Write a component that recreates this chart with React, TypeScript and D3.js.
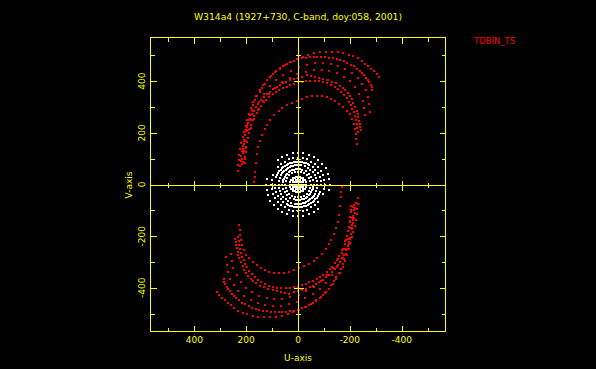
import React from "react";
import * as d3 from "d3";

const W = 596;
const H = 369;

const titleText = "W314a4 (1927+730, C-band, doy:058, 2001)";
const legendText = "TDBIN_TS";
const xLabel = "U-axis";
const yLabel = "V-axis";

const axisTicks = [-500, -400, -300, -200, -100, 100, 200, 300, 400, 500];
const labelTicks = [400, 200, 0, -200, -400];

type P = [number, number];

// Red (long baseline) tracks, upper half; the conjugate (-u,-v) is also plotted.
const trackA: P[] = [
  [168, 9], [167, 28], [165, 48], [163, 84], [159, 119], [153, 145], [146, 170], [137, 193],
  [127, 215], [118, 232], [108, 248], [92, 268], [75, 286], [60, 297], [43, 306], [24, 316],
  [5, 325], [-15, 332], [-34, 338], [-53, 341], [-72, 343], [-91, 341], [-110, 338], [-127, 331],
  [-143, 323], [-160, 312], [-175, 299], [-188, 286], [-200, 271], [-209, 254], [-216, 235],
  [-220, 216], [-223, 196], [-225, 176], [-226, 157],
];

const track1: P[] = [
  [233, 54], [231, 74], [229, 93], [226, 116], [223, 138], [219, 160], [214, 183], [208, 205],
  [201, 228], [195, 251], [188, 274], [180, 297], [172, 319], [161, 342], [148, 364], [135, 384],
  [120, 403], [104, 420], [88, 435], [69, 450], [50, 463], [28, 475], [5, 486], [-18, 495],
  [-40, 503], [-62, 508], [-85, 512], [-108, 514], [-130, 513], [-153, 511], [-175, 508],
  [-195, 503], [-213, 497], [-230, 488], [-245, 477], [-258, 467], [-271, 458], [-282, 449],
  [-293, 439], [-303, 429], [-313, 418],
];

const track2: P[] = [
  [222, 72], [220, 91], [218, 110], [215, 130], [212, 150], [209, 170], [205, 190], [201, 210],
  [196, 230], [191, 250], [185, 270], [179, 289], [172, 308], [165, 326], [157, 343], [148, 359],
  [139, 375], [129, 389], [118, 403], [107, 416], [95, 428], [83, 439], [70, 449], [57, 458],
  [43, 466], [29, 473], [15, 479], [0, 484], [-15, 488], [-30, 490], [-45, 492], [-60, 493],
  [-75, 494], [-90, 494], [-105, 493], [-120, 491], [-135, 489], [-149, 486], [-163, 482],
  [-177, 477], [-190, 471], [-203, 464], [-215, 457], [-227, 449], [-238, 440], [-247, 432],
  [-256, 423], [-263, 414], [-270, 405], [-275, 396], [-280, 386], [-284, 376], [-287, 366],
];

const track3: P[] = [
  [214, 88], [209, 130], [202, 170], [193, 210], [182, 248], [168, 285], [151, 320], [131, 352],
  [109, 380], [84, 405], [57, 425], [28, 441], [-2, 454], [-33, 464], [-64, 470], [-95, 471],
  [-126, 467], [-155, 459], [-183, 447], [-208, 431], [-230, 412], [-248, 390], [-262, 365],
  [-270, 338], [-274, 310], [-276, 282],
];

const track4: P[] = [
  [205, 100], [200, 140], [192, 180], [182, 218], [169, 255], [153, 290], [134, 322], [112, 350],
  [88, 375], [61, 396], [32, 413], [2, 426], [-29, 436], [-60, 442], [-91, 443], [-121, 439],
  [-150, 430], [-177, 417], [-201, 399], [-221, 377], [-237, 352], [-249, 325], [-256, 297],
  [-260, 270],
];

const track5: P[] = [
  [216, 80], [215, 100], [214, 120], [212, 139], [210, 158], [207, 174], [204, 190], [201, 206],
  [197, 222], [192, 239], [186, 255], [179, 271], [172, 286], [163, 300], [154, 313], [144, 326],
  [133, 338], [121, 349], [108, 359], [95, 368], [82, 377], [70, 385], [58, 392], [45, 398],
  [31, 403], [16, 409], [0, 414], [-17, 418], [-34, 422], [-50, 420], [-66, 418], [-82, 414],
  [-98, 409], [-114, 404], [-130, 398], [-146, 391], [-162, 383], [-173, 374], [-183, 365],
  [-192, 355], [-200, 344], [-207, 330], [-214, 316], [-220, 301], [-226, 286], [-230, 273],
  [-233, 260], [-236, 247], [-239, 235], [-241, 222], [-242, 210],
];

const track6: P[] = [
  [205, 85], [204, 105], [202, 125], [200, 144], [197, 163], [194, 181], [190, 198], [186, 215],
  [181, 232], [175, 248], [168, 264], [160, 278], [152, 292], [143, 305], [133, 318], [122, 329],
  [110, 340], [98, 349], [85, 358], [72, 366], [58, 373], [44, 379], [30, 385], [15, 390],
  [0, 395], [-16, 398], [-32, 401], [-48, 402], [-64, 402], [-80, 399], [-96, 396], [-112, 391],
  [-127, 385], [-141, 377], [-155, 368], [-167, 357], [-178, 346], [-188, 334], [-196, 321],
  [-203, 307], [-210, 293], [-215, 279], [-220, 264], [-224, 250], [-227, 235], [-229, 220],
  [-231, 205],
];

// White (short baseline) tracks, upper half; conjugates plotted too.
const white1: P[] = [
  [79, 94], [62, 107], [42, 116], [21, 121], [0, 123], [-21, 121], [-42, 116], [-62, 107],
  [-79, 94], [-94, 79], [-107, 62], [-116, 42], [-121, 21], [-123, 0], [-121, -21],
];

const white2: P[] = [
  [79, 66], [66, 79], [52, 89], [35, 97], [18, 101], [0, 103], [-18, 101], [-35, 97], [-52, 89],
  [-66, 79], [-79, 66], [-89, 52], [-97, 35], [-101, 18], [-103, 0], [-101, -18], [-97, -35],
];

const white3: P[] = [
  [83, 30], [80, 37], [76, 44], [72, 51], [67, 57], [62, 62], [57, 67], [51, 72], [44, 76],
  [37, 80], [30, 83], [22, 85], [15, 87], [8, 88], [0, 88], [-8, 88], [-15, 87], [-22, 85],
  [-30, 83], [-37, 80], [-44, 76], [-57, 67], [-67, 57], [-76, 44], [-83, 30], [-87, 15], [-88, 0],
];

const white4: P[] = [
  [75, 0], [74, 13], [70, 26], [65, 38], [61, 43], [57, 48], [53, 53], [48, 57], [43, 61],
  [38, 65], [32, 68], [26, 70], [20, 72], [13, 74], [7, 75], [0, 75], [-7, 75], [-13, 74],
  [-26, 70], [-38, 65], [-48, 57], [-57, 48], [-65, 38], [-70, 26], [-74, 13], [-75, 0],
];

const white5: P[] = [
  [60, 0], [59, 8], [58, 16], [55, 23], [52, 30], [47, 36], [42, 42], [36, 47], [30, 52],
  [23, 55], [16, 58], [8, 59], [0, 60], [-8, 59], [-16, 58], [-30, 52], [-42, 42], [-52, 30],
  [-58, 16], [-60, 0],
];

const white6: P[] = [
  [50, 0], [48, 13], [43, 25], [35, 35], [25, 43], [13, 48], [0, 50], [-13, 48], [-25, 43],
  [-35, 35], [-43, 25], [-48, 13], [-50, 0],
];

const whiteCore: P[] = [
  [-30, 0], [-22, 0], [-15, 0], [-7, 0], [0, 0], [7, 0], [15, 0], [22, 0], [30, 0],
  [-29, 8], [-21, 8], [-14, 8], [-7, 8], [0, 8], [7, 8], [14, 8], [21, 8], [29, 8],
  [-26, 16], [-18, 16], [-9, 16], [0, 16], [9, 16], [18, 16], [26, 16],
  [-20, 24], [-10, 24], [0, 24], [10, 24], [20, 24],
  [-8, 30], [0, 30], [8, 30],
];

const redTracks = [trackA, track1, track2, track3, track4, track5, track6];
const whiteTracks = [white1, white2, white3, white4, white5, white6, whiteCore];

const YELLOW = "#ffff00";
const RED = "#ff0000";
const FONT = "'DejaVu Sans', sans-serif";

export default function App() {
  const left = 150.5;
  const right = 445.5;
  const top = 37.5;
  const bottom = 331.5;
  const x = d3.scaleLinear().domain([569, -569]).range([left, right]);
  const y = d3.scaleLinear().domain([-569, 569]).range([bottom, top]);

  const withConj = (pts: P[]): P[] => pts.flatMap(([u, v]) => [[u, v] as P, [-u, -v] as P]);

  const redPts = redTracks.flatMap(withConj);
  const whitePts = whiteTracks.flatMap(withConj);

  const x0 = Math.round(x(0)) + 0.5;
  const y0 = Math.round(y(0)) + 0.5;

  const isMajor = (t: number) => t % 200 === 0;

  return (
    <svg
      width={W}
      height={H}
      style={{ position: "fixed", left: 0, top: 0, background: "#000", display: "block" }}
    >
      <rect x={0} y={0} width={W} height={H} fill="#000" />

      {/* points */}
      <g shapeRendering="crispEdges">
        {redPts.map(([u, v], i) => (
          <rect key={"r" + i} x={Math.round(x(u)) - 1} y={Math.round(y(v)) - 1} width={2} height={2} fill={RED} />
        ))}
        {whitePts.map(([u, v], i) => (
          <rect key={"w" + i} x={Math.round(x(u)) - 1} y={Math.round(y(v)) - 1} width={2} height={2} fill="#ffffff" />
        ))}
      </g>

      {/* frame + axes */}
      <g stroke={YELLOW} strokeWidth={1} fill="none" shapeRendering="crispEdges">
        <rect x={left} y={top} width={right - left} height={bottom - top} />
        <line x1={left} x2={right} y1={y0} y2={y0} />
        <line x1={x0} x2={x0} y1={top} y2={bottom} />
        {axisTicks.map((t) => {
          const px = Math.round(x(t)) + 0.5;
          const py = Math.round(y(t)) + 0.5;
          const fl = isMajor(t) ? 6 : 4;
          const cl = isMajor(t) ? 5 : 2.5;
          return (
            <g key={"t" + t}>
              <line x1={px} x2={px} y1={top} y2={top + fl} />
              <line x1={px} x2={px} y1={bottom} y2={bottom - fl} />
              <line x1={left} x2={left + fl} y1={py} y2={py} />
              <line x1={right} x2={right - fl} y1={py} y2={py} />
              <line x1={px} x2={px} y1={y0 - cl} y2={y0 + cl} />
              <line x1={x0 - cl} x2={x0 + cl} y1={py} y2={py} />
            </g>
          );
        })}
      </g>

      {/* texts */}
      <g fill={YELLOW} fontFamily={FONT} fontSize={9}>
        <text x={298} y={19.5} textAnchor="middle" textLength={208} lengthAdjust="spacingAndGlyphs">
          {titleText}
        </text>
        {labelTicks.map((t) => (
          <text key={"xl" + t} x={x(t)} y={342.5} textAnchor="middle">
            {String(t)}
          </text>
        ))}
        {labelTicks.map((t) => (
          <text
            key={"yl" + t}
            transform={`translate(145,${y(t)}) rotate(-90)`}
            textAnchor="middle"
          >
            {String(t)}
          </text>
        ))}
        <text x={298} y={361} textAnchor="middle">
          {xLabel}
        </text>
        <text transform={`translate(131.5,185) rotate(-90)`} textAnchor="middle">
          {yLabel}
        </text>
      </g>
      <text x={474} y={44.3} fill={RED} fontFamily={FONT} fontSize={9} textLength={41} lengthAdjust="spacingAndGlyphs">
        {legendText}
      </text>
    </svg>
  );
}
